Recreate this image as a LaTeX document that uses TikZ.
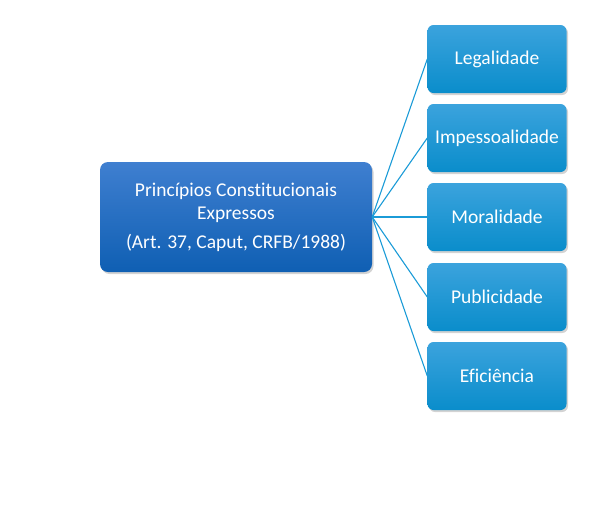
\documentclass[tikz,border=0pt]{standalone}
\usepackage{fontspec}
\setmainfont{Carlito}[Ligatures=NoCommon]
\usetikzlibrary{shadows}
\definecolor{mainTop}{HTML}{3F7FD0}
\definecolor{mainBot}{HTML}{0F5FB3}
\definecolor{itemTop}{HTML}{3BA3DD}
\definecolor{itemBot}{HTML}{0A8DCB}
\definecolor{linkCol}{HTML}{1B9BD7}
\tikzset{
  mainbox/.style={rounded corners=8pt,top color=mainTop,bottom color=mainBot,draw=none,
    minimum width=272pt,minimum height=110pt,text=white,align=center,font=\fontsize{19.5}{23}\selectfont,
    drop shadow={shadow xshift=1.5pt,shadow yshift=-2pt,opacity=.35}},
  itembox/.style={rounded corners=6pt,top color=itemTop,bottom color=itemBot,draw=none,
    minimum width=139pt,minimum height=68pt,text=white,font=\fontsize{19.5}{23}\selectfont,
    drop shadow={shadow xshift=1.5pt,shadow yshift=-2pt,opacity=.35}},
  link/.style={draw=linkCol,line width=1.1pt}
}
\begin{document}
\begin{tikzpicture}[x=1pt,y=-1pt]
\useasboundingbox (0,0) rectangle (600,515);
\node[mainbox] (main) at (236,217) {Princípios Constitucionais\\Expressos\\[6pt](Art. 37, Caput, CRFB/1988)};
\foreach \n/\y/\t in {legal/59/Legalidade,imp/138/Impessoalidade,moral/217/Moralidade,pub/297/Publicidade,efic/376/Eficiência}{
  \node[itembox] (\n) at (497,\y) {\t};
  \draw[link] (main.east) -- (\n.west);
}
\end{tikzpicture}
\end{document}
